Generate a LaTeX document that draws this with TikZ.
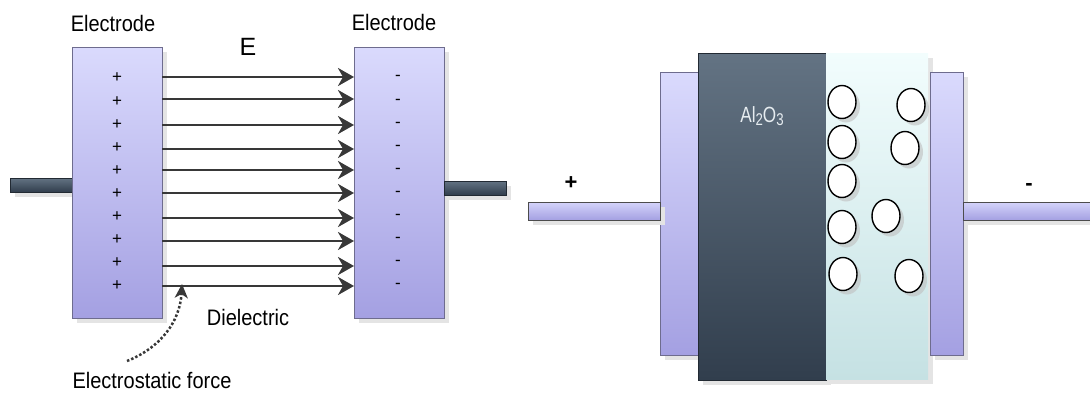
\documentclass[tikz,border=0pt]{standalone}
\usepackage{fontspec}
\setmainfont{Liberation Sans}
\usetikzlibrary{arrows.meta,shadows,shapes.geometric}

\definecolor{plateTop}{HTML}{DADAFD}
\definecolor{plateBot}{HTML}{A4A0E2}
\definecolor{plateEdge}{HTML}{6E6C8E}
\definecolor{slateTop}{HTML}{637383}
\definecolor{slateBot}{HTML}{313E4D}
\definecolor{slateEdge}{HTML}{222A33}
\definecolor{iceTop}{HTML}{F2FDFD}
\definecolor{iceBot}{HTML}{C5E1E3}
\definecolor{shadowGrey}{HTML}{E4E4E4}
\definecolor{ink}{HTML}{383838}
\definecolor{oxideText}{HTML}{E6ECF0}

\newcommand{\tall}[1]{\scalebox{1}[1.12]{#1}}

\tikzset{
  shadowed/.style={drop shadow={shadow xshift=5pt, shadow yshift=-5pt, fill=shadowGrey, opacity=1}},
  box/.style={rectangle, inner sep=0pt, outer sep=0pt, anchor=north west},
  plate/.style={box, draw=plateEdge, line width=0.9pt, top color=plateTop, bottom color=plateBot, shadowed},
  wire/.style={box, draw=ink!90, line width=1pt, top color=plateTop!90!plateBot, bottom color=plateBot, shadowed},
  slate/.style={box, draw=slateEdge, line width=1pt, top color=slateTop, bottom color=slateBot, shadowed},
  ice/.style={box, top color=iceTop, bottom color=iceBot, shadowed},
  ion/.style={ellipse, draw=black, line width=1.4pt, fill=white, minimum width=28pt, minimum height=33pt, inner sep=0pt,
    drop shadow={shadow xshift=4pt, shadow yshift=-4pt, fill=black!25, opacity=0.6}},
  field/.style={draw=ink, line width=2.8pt, -{Stealth[length=16pt,width=18pt,inset=5pt]}},
  force/.style={draw=ink, line width=2.5pt, dotted, -{Stealth[length=14pt,width=13pt,inset=4pt]}},
  lbl/.style={font=\fontsize{20}{24}\selectfont, text=black},
  charge/.style={font=\fontsize{17}{19}\selectfont, text=black},
  pole/.style={font=\bfseries\fontsize{22}{24}\selectfont, text=black},
}

\begin{document}
\begin{tikzpicture}[x=1pt, y=-1pt]
  \useasboundingbox (0,0) rectangle (1090,392);

  % ---------- parallel-plate capacitor ----------
  \node[slate, minimum width=62pt, minimum height=14pt] (lt) at (10,178) {};
  \node[plate, minimum width=90pt, minimum height=271pt] (lp) at (72,47) {};
  \node[plate, minimum width=90pt, minimum height=271pt] (rp) at (354,47) {};
  \node[slate, minimum width=62pt, minimum height=14pt] (rt) at (444,181) {};

  \node[lbl] (lplbl) at (113,23) {\tall{Electrode}};
  \node[lbl] (rplbl) at (394,22) {\tall{Electrode}};
  \node[font=\fontsize{25}{27}\selectfont] (field) at (248,47) {E};
  \node[lbl] (diel) at (248,317) {\tall{Dielectric}};
  \node[lbl] (efl) at (152,380) {\tall{Electrostatic force}};

  \foreach \y [count=\i] in {78,102,125,148,171,194,217,240,263,286} {
    \node[charge] (pos\i) at (117,\y) {+};
    \node[charge] (neg\i) at (398,\y) {-};
  }

  \foreach \y [count=\i] in {77,99,125,149,170,193,218,241,266,286} {
    \path (0,\y) coordinate (h\i);
    \draw[field] (lp.east |- h\i) -- (rp.west |- h\i);
  }

  \coordinate (ftail) at (127,361);
  \coordinate (ftip) at (182,284);
  \draw[force] (ftail) .. controls (160,348) and (180,322) .. (ftip);

  % ---------- electrolytic capacitor ----------
  \node[plate, minimum width=38pt, minimum height=283pt] (anode) at (660,72) {};
  \node[slate, minimum width=128pt, minimum height=327pt] (oxide) at (698,53) {};
  \node[ice, minimum width=102pt, minimum height=326pt] (electrolyte) at (826,53) {};
  \node[plate, minimum width=33pt, minimum height=283pt] (cathode) at (930,72) {};
  \node[wire, minimum width=132pt, minimum height=18pt] (lw) at (528,202) {};
  \node[wire, minimum width=135pt, minimum height=18pt] (rw) at (963,202) {};

  \node[text=oxideText, font=\fontsize{22}{24}\selectfont] (oxlbl) at (762,116)
    {\scalebox{0.78}[1]{Al\raisebox{-0.12em}{\fontsize{17}{19}\selectfont 2}O\raisebox{-0.12em}{\fontsize{17}{19}\selectfont 3}}};
  \node[pole] (plus) at (571,183) {+};
  \node[pole] (minus) at (1029,187) {-};

  \foreach \x/\y [count=\i] in {842/102, 911/105, 842/142, 905/148, 842/181,
                                 886/216, 842/227, 843/274, 909/276} {
    \node[ion] (ion\i) at (\x,\y) {};
  }
\end{tikzpicture}
\end{document}
